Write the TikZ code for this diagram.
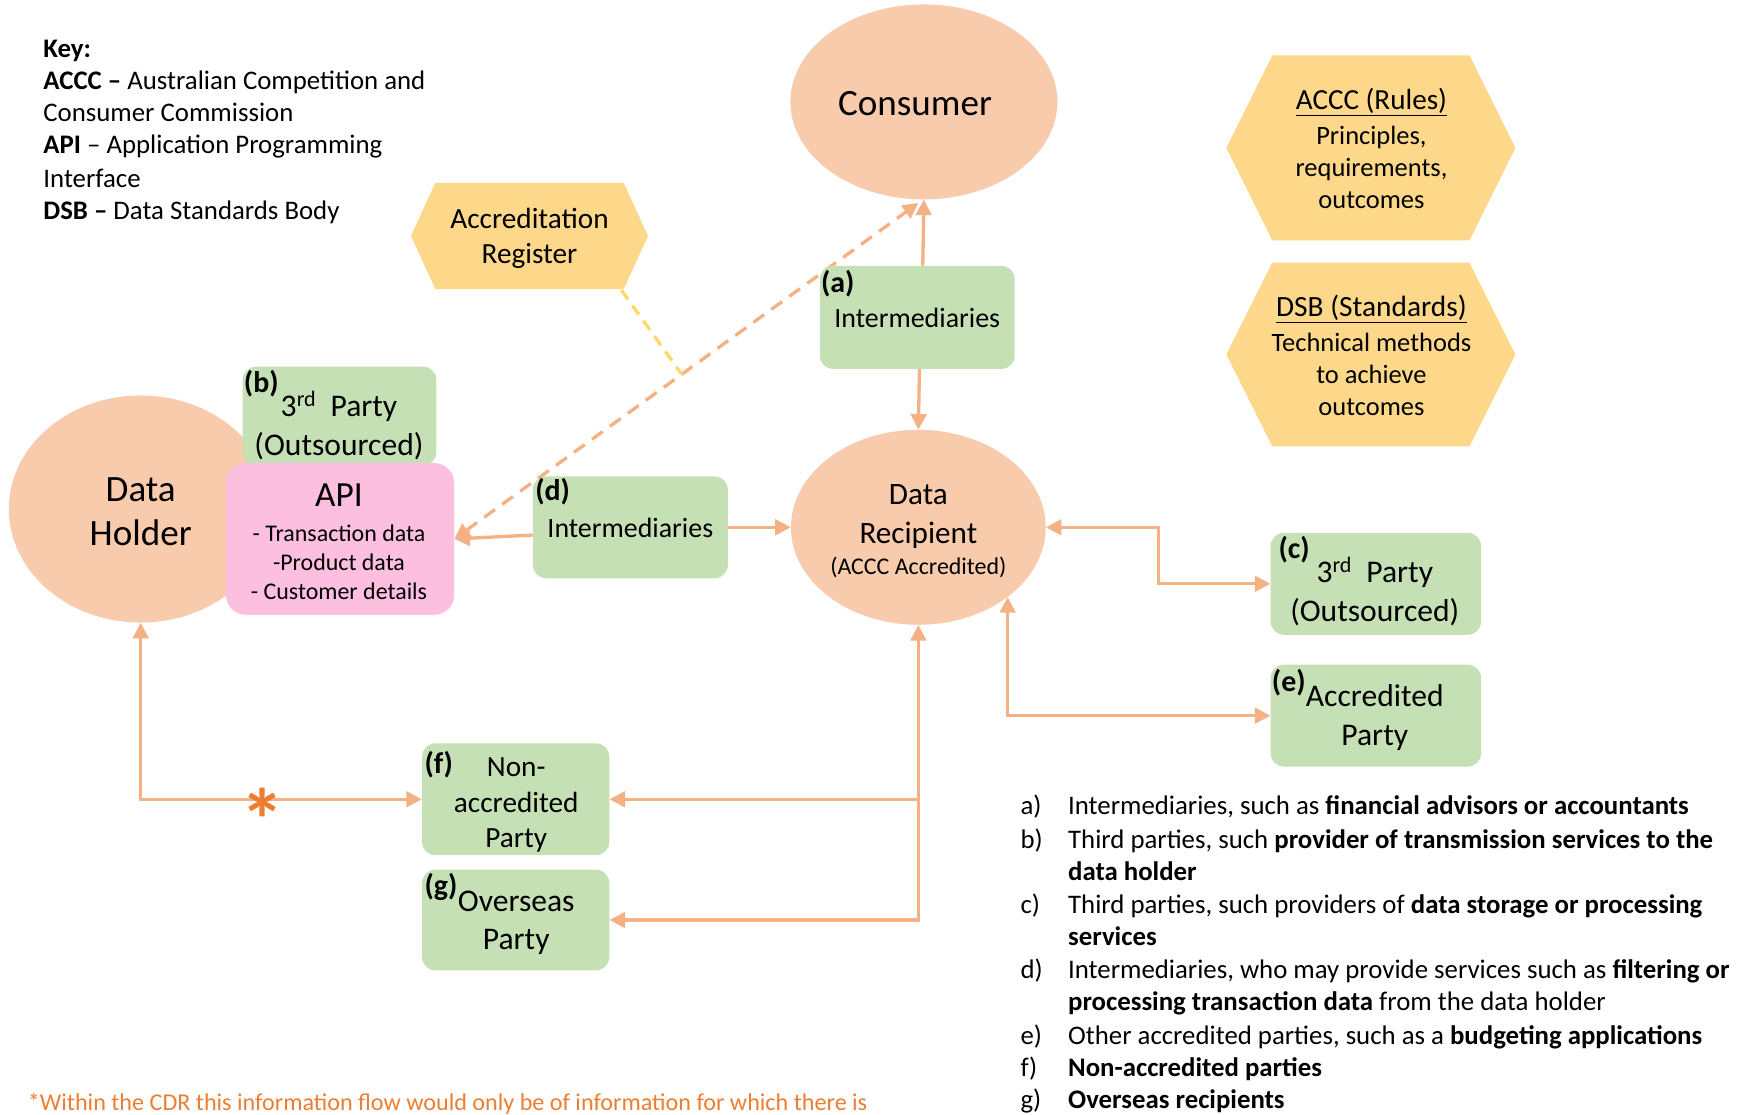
\documentclass[tikz,border=0pt]{standalone}
\usepackage{fontspec}
\setmainfont{Carlito}
\usetikzlibrary{arrows.meta,fit,calc,shapes.geometric}
\pgfdeclarelayer{bg}
\pgfsetlayers{bg,main}
\definecolor{peach}{HTML}{F8CBAD}
\definecolor{boxgreen}{HTML}{C5E0B4}
\definecolor{hexyellow}{HTML}{FED88A}
\definecolor{apipink}{HTML}{FDBFE0}
\definecolor{arrowc}{HTML}{F4B183}
\definecolor{ydash}{HTML}{FFD966}
\definecolor{orng}{HTML}{ED7D31}
\newcommand{\myfs}[2]{\fontsize{#1}{#2}\selectfont}
\begin{document}
\begin{tikzpicture}[x=1pt,y=-1pt,
  ell/.style={ellipse, fill=peach, inner sep=0pt},
  gbox/.style={rectangle, rounded corners=12pt, fill=boxgreen, inner sep=0pt},
  txt/.style={inner sep=0pt, align=center, text=black},
  lab/.style={inner sep=0pt, anchor=west, font=\myfs{27}{30}\bfseries},
  leg/.style={inner sep=0pt, anchor=base west, font=\myfs{24.2}{29.5}},
  keyl/.style={inner sep=0pt, anchor=base west, font=\myfs{24.2}{29.3}},
  hexfill/.style={fill=hexyellow},
  conn/.style={draw=arrowc, line width=3pt, -{Triangle[length=14pt,width=14pt]}},
  conn2/.style={draw=arrowc, line width=3pt, {Triangle[length=14pt,width=14pt]}-{Triangle[length=14pt,width=14pt]}},
  dconn/.style={conn2, dash pattern=on 12pt off 8pt},
  yconn/.style={draw=ydash, line width=3pt, dash pattern=on 10pt off 7pt}
]
\useasboundingbox (0,0) rectangle (1568,1006);

% ---- Key ----
\node[keyl] (k1) at (39,52) {\textbf{Key:}};
\node[keyl] (k2) at (39,81) {\textbf{ACCC –} Australian Competition and};
\node[keyl] (k3) at (39,110) {Consumer Commission};
\node[keyl] (k4) at (39,139) {\textbf{API} – Application Programming};
\node[keyl] (k5) at (39,169) {Interface};
\node[keyl] (k6) at (39,198) {\textbf{DSB –} Data Standards Body};

% ---- Hexagons ----
\fill[hexfill] (371,213) -- (393,165) -- (563,165) -- (585,213) -- (563,261) -- (393,261) -- cycle;
\node[txt, font=\myfs{26.4}{32}] (ar) at (478,215) {Accreditation\\Register};
\coordinate (arb) at (561,262);

\fill[hexfill] (1107,133.5) -- (1148.5,50) -- (1326.5,50) -- (1368,133.5) -- (1326.5,217) -- (1148.5,217) -- cycle;
\node[txt, anchor=base, font=\myfs{26.3}{31}] (accT) at (1238,99) {\underline{ACCC (Rules)}};
\node[txt, font=\myfs{23.9}{29}] (accB) at (1238,151) {Principles,\\requirements,\\outcomes};

\fill[hexfill] (1107,320) -- (1148.5,237) -- (1326.5,237) -- (1368,320) -- (1326.5,403) -- (1148.5,403) -- cycle;
\node[txt, anchor=base, font=\myfs{26.5}{31}] (dsbT) at (1238,286) {\underline{DSB (Standards)}};
\node[txt, font=\myfs{23.9}{29}] (dsbB) at (1238,338) {Technical methods\\to achieve\\outcomes};

% ---- Ellipses ----
\node[ell, minimum width=241pt, minimum height=176pt] (cons) at (834,92) {};
\node[txt, anchor=base, font=\myfs{33.5}{40}] (consT) at (826,104) {Consumer};

\node[ell, minimum width=230pt, minimum height=176pt] (dr) at (829,476) {};
\node[txt, font=\myfs{28.1}{35}] (drT) at (829,466) {Data\\Recipient};
\node[txt, anchor=base, font=\myfs{21.6}{26}] (drS) at (829,518.5) {(ACCC Accredited)};

\node[ell, minimum width=238pt, minimum height=205pt] (dh) at (127,459.5) {};
\node[txt, font=\myfs{33.5}{40}] (dhT) at (127,462) {Data\\Holder};

% ---- Boxes ----
\node[gbox, fit={(219,331) (394,420)}] (b) {};
\node[lab] (bL) at (220,346) {(b)};
\node[txt, font=\myfs{28.5}{35}] (bT) at (306,384) {3\textsuperscript{rd}\ \ Party\\(Outsourced)};

\node[rectangle, rounded corners=18pt, fill=apipink, inner sep=0pt, fit={(204,418) (410,555)}] (api) {};
\node[txt, anchor=base, font=\myfs{31.9}{38}] (apiT) at (306,457.5) {API};
\node[txt, font=\myfs{21.6}{26.5}] (apiL) at (306,507.5) {- Transaction data\\-Product data\\- Customer details};

\node[gbox, fit={(740,240) (916,333)}] (a) {};
\node[lab] (aL) at (741,256) {(a)};
\node[txt, anchor=base, font=\myfs{25.2}{30}] (aT) at (828,296) {Intermediaries};

\node[gbox, fit={(481,430) (657,522)}] (d) {};
\node[lab] (dL) at (483,444) {(d)};
\node[txt, anchor=base, font=\myfs{25.2}{30}] (dT) at (569,485) {Intermediaries};

\node[gbox, fit={(1147,481) (1337,573)}] (c) {};
\node[lab] (cL) at (1154,496) {(c)};
\node[txt, font=\myfs{28.5}{35}] (cT) at (1241,534) {3\textsuperscript{rd}\ \ Party\\(Outsourced)};

\node[gbox, fit={(1147,600) (1337,692)}] (e) {};
\node[lab] (eL) at (1148,616) {(e)};
\node[txt, font=\myfs{28.5}{35}] (eT) at (1241,648) {Accredited\\Party};

\node[gbox, fit={(381,671) (550,772)}] (f) {};
\node[lab] (fL) at (383,690) {(f)};
\node[txt, font=\myfs{26.4}{32}] (fT) at (466,727) {Non-\\accredited\\Party};

\node[gbox, fit={(381,785) (550,876)}] (g) {};
\node[lab] (gL) at (383,801) {(g)};
\node[txt, font=\myfs{28.5}{35}] (gT) at (466,833) {Overseas\\Party};

% ---- Connectors ----
\begin{pgfonlayer}{bg}
\draw[conn] ([xshift=5pt]a.north) -- (cons.south);
\draw[conn] ([xshift=2pt]a.south) -- (dr.north);
\draw[conn] (d.east) -- (dr.west);
\draw[conn] ([yshift=-7pt]d.west) -- (api.east);
\draw[dconn] (api.east) -- ([xshift=-5pt,yshift=-3pt]cons.south);
\draw[yconn] (arb) -- ($(api.east)!0.49!([xshift=-5pt,yshift=-3pt]cons.south)$);
\draw[conn2] (dr.east) -- (1046,476) |- (c.west);
\draw[conn2] (dr.-38) |- (e.west);
\draw[conn2] (dr.south) |- (g.east);
\draw[conn] (dr.south |- f.east) -- (f.east);
\draw[conn2] (dh.south) |- (f.west);
\end{pgfonlayer}
\node[inner sep=0pt, text=orng, font=\myfs{80}{80}\bfseries] (ast) at (237,740) {*};

% ---- Legend ----
\node[leg] (la) at (921,735.5) {a)};
\node[leg] (ta) at (964,735.5) {Intermediaries, such as \textbf{financial advisors or accountants}};
\node[leg] (lb) at (921,765.5) {b)};
\node[leg] (tb) at (964,765.5) {Third parties, such \textbf{provider of transmission services to the}};
\node[leg] (tb2) at (964,794.5) {\textbf{data holder}};
\node[leg] (lc) at (921,824.5) {c)};
\node[leg] (tc) at (964,824.5) {Third parties, such providers of \textbf{data storage or processing}};
\node[leg] (tc2) at (964,853.5) {\textbf{services}};
\node[leg] (ld) at (921,883.5) {d)};
\node[leg] (td) at (964,883.5) {Intermediaries, who may provide services such as \textbf{filtering or}};
\node[leg] (td2) at (964,912.5) {\textbf{processing transaction data} from the data holder};
\node[leg] (le) at (921,942.5) {e)};
\node[leg] (te) at (964,942.5) {Other accredited parties, such as a \textbf{budgeting applications}};
\node[leg] (lf) at (921,971.5) {f)};
\node[leg] (tf) at (964,971.5) {\textbf{Non-accredited parties}};
\node[leg] (lg) at (921,1000.5) {g)};
\node[leg] (tg) at (964,1000.5) {\textbf{Overseas recipients}};

% ---- Footnote ----
\node[inner sep=0pt, anchor=base west, text=orng, font=\myfs{21.8}{26}] (foot) at (25,1002.5) {*Within the CDR this information flow would only be of information for which there is};
\end{tikzpicture}
\end{document}
